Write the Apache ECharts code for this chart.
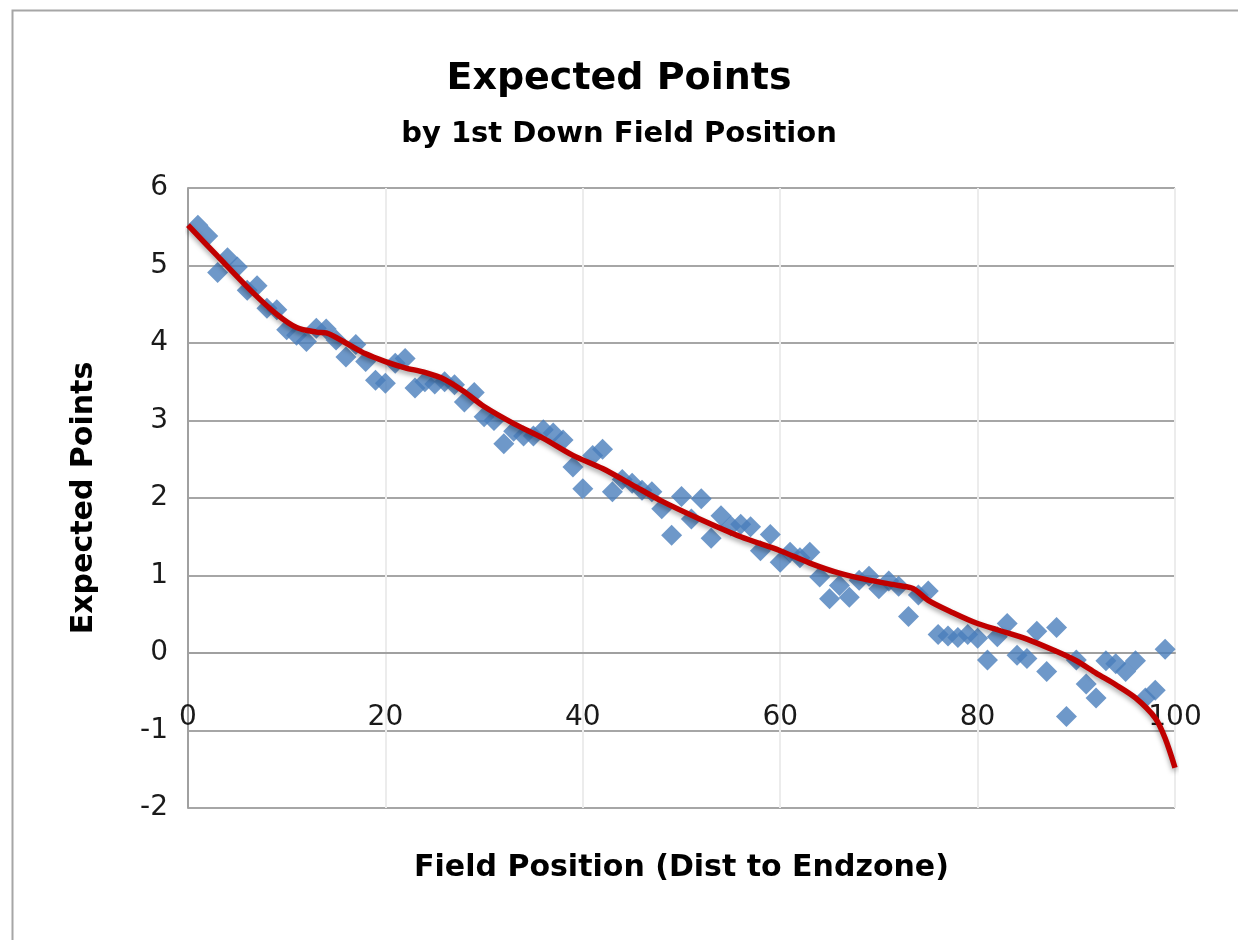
<!DOCTYPE html>
<html>
<head>
<meta charset="utf-8">
<script src="https://cdn.jsdelivr.net/npm/echarts@6/dist/echarts.min.js"></script>
<style>html,body{margin:0;padding:0;background:#fff;}#c{width:1238px;height:940px;}</style>
</head>
<body>
<div id="c"></div>
<script>
const titleText = 'Expected Points';
const subtitleText = 'by 1st Down Field Position';
const xAxisName = 'Field Position (Dist to Endzone)';
const yAxisName = 'Expected Points';

const fieldPos = [1,2,3,4,5,6,7,8,9,10,11,12,13,14,15,16,17,18,19,20,21,22,23,24,25,26,27,28,29,30,31,32,33,34,35,36,37,38,39,40,41,42,43,44,45,46,47,48,49,50,51,52,53,54,55,56,57,58,59,60,61,62,63,64,65,66,67,68,69,70,71,72,73,74,75,76,77,78,79,80,81,82,83,84,85,86,87,88,89,90,91,92,93,94,95,96,97,98,99];
const expPoints = [5.52,5.38,4.91,5.10,4.98,4.68,4.74,4.45,4.43,4.17,4.10,4.02,4.19,4.18,4.04,3.82,3.98,3.76,3.52,3.48,3.74,3.80,3.42,3.50,3.47,3.50,3.46,3.24,3.36,3.05,3.00,2.70,2.86,2.80,2.80,2.88,2.84,2.75,2.40,2.12,2.55,2.63,2.08,2.24,2.19,2.10,2.08,1.86,1.52,2.02,1.73,1.99,1.48,1.77,1.64,1.66,1.63,1.32,1.53,1.17,1.30,1.23,1.30,0.98,0.70,0.87,0.72,0.94,0.99,0.83,0.93,0.86,0.47,0.75,0.80,0.24,0.22,0.20,0.24,0.19,-0.09,0.21,0.38,-0.03,-0.07,0.28,-0.24,0.33,-0.82,-0.09,-0.40,-0.58,-0.10,-0.14,-0.24,-0.10,-0.58,-0.48,0.05];

const trendX = [0,3,6.5,9,11,13,14,16,18,20,22,24,26,28,30,33,36,39,42,45,48,52,56,60,63,66,69,72,73.5,75,77.5,80,82,85,88,90,92,94,96,98,99,100];
const trendY = [5.52,5.12,4.66,4.37,4.20,4.14,4.13,4.00,3.86,3.76,3.68,3.62,3.53,3.37,3.18,2.96,2.77,2.55,2.38,2.17,1.96,1.72,1.50,1.32,1.16,1.03,0.94,0.87,0.83,0.68,0.52,0.38,0.30,0.18,0.02,-0.10,-0.26,-0.41,-0.58,-0.84,-1.10,-1.48];

const font = '"DejaVu Sans", sans-serif';
const chart = echarts.init(document.getElementById('c'), null, {renderer: 'canvas'});
chart.setOption({
  animation: false,
  backgroundColor: '#fff',
  graphic: [{
    type: 'rect', left: 10, top: 8,
    shape: {width: 1240, height: 950},
    style: {fill: 'none', stroke: '#a6a6a6', lineWidth: 2}
  }],
  title: [
    {text: titleText, left: 'center', top: 55, textStyle: {fontFamily: font, fontSize: 38, fontWeight: 'bold', color: '#000'}},
    {text: subtitleText, left: 'center', top: 115, textStyle: {fontFamily: font, fontSize: 29, fontWeight: 'bold', color: '#000'}}
  ],
  grid: {left: 188, top: 188, width: 987, height: 620, containLabel: false, outerBoundsMode: 'none'},
  xAxis: {
    type: 'value', min: 0, max: 100, interval: 20,
    name: xAxisName, nameLocation: 'middle', nameGap: 45,
    nameTextStyle: {fontFamily: font, fontSize: 30, fontWeight: 'bold', color: '#000'},
    axisLine: {onZero: true, lineStyle: {color: '#a0a0a0', width: 2}},
    axisTick: {show: false},
    axisLabel: {margin: -104, fontFamily: font, fontSize: 28, color: '#1a1a1a'},
    splitLine: {show: true, lineStyle: {color: '#ececec', width: 2}}
  },
  yAxis: {
    type: 'value', min: -2, max: 6, interval: 1,
    name: yAxisName, nameLocation: 'middle', nameGap: 89, nameRotate: 90,
    nameTextStyle: {fontFamily: font, fontSize: 30, fontWeight: 'bold', color: '#000'},
    axisLine: {show: true, lineStyle: {color: '#a0a0a0', width: 2}},
    axisTick: {show: false},
    axisLabel: {margin: 20, fontFamily: font, fontSize: 28, color: '#1a1a1a'},
    splitLine: {show: true, lineStyle: {color: '#a6a6a6', width: 2}}
  },
  series: [
    {
      type: 'scatter', symbol: 'diamond', symbolSize: 21,
      itemStyle: {color: '#4a7ebb'},
      data: fieldPos.map((x, i) => [x, expPoints[i]]),
      z: 2
    },
    {
      type: 'line', smooth: 0.3, showSymbol: false, symbol: 'none',
      lineStyle: {color: '#c00000', width: 5.5, shadowBlur: 5, shadowColor: 'rgba(0,0,0,0.35)', shadowOffsetY: 3},
      data: trendX.map((x, i) => [x, trendY[i]]),
      z: 3
    }
  ]
});
</script>
</body>
</html>
